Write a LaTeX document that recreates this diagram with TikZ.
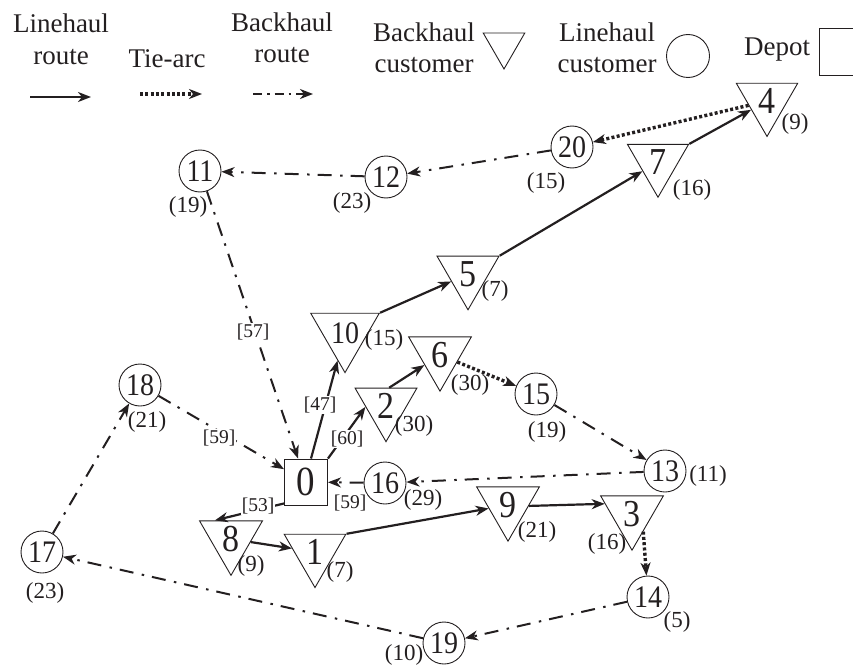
\documentclass[tikz,border=0pt]{standalone}
\usepackage{fontspec}
\usepackage{graphicx}
\setmainfont{Liberation Serif}
\usetikzlibrary{shapes.geometric,arrows.meta,calc}
\definecolor{ink}{RGB}{35,31,32}
\newcommand{\tallnum}[1]{\scalebox{1}[1.12]{#1}}
\begin{document}
\begin{tikzpicture}[x=1pt,y=-1pt,
  every node/.style={text=ink},
  circ/.style={circle,draw=ink,line width=0.9pt,minimum size=42pt,inner sep=0pt,font=\fontsize{28}{28}\selectfont},
  tri/.style={regular polygon,regular polygon sides=3,shape border rotate=180,draw=ink,line width=0.9pt,minimum size=64.7pt,inner sep=0pt,font=\fontsize{34}{34}\selectfont},
  depot/.style={rectangle,draw=ink,line width=0.9pt,minimum width=43pt,minimum height=46pt,inner sep=0pt,font=\fontsize{37}{37}\selectfont},
  dem/.style={inner sep=0pt,font=\fontsize{23}{23}\selectfont},
  elab/.style={inner sep=1pt,fill=white,font=\fontsize{19.5}{19.5}\selectfont},
  leg/.style={inner sep=0pt,anchor=base,font=\fontsize{27}{27}\selectfont},
  tip/.style={-{Stealth[length=13pt,width=10pt,inset=4pt]}},
  lh/.style={tip,draw=ink,line width=2.2pt},
  tie/.style={tip,draw=ink,line width=3.4pt,dash pattern=on 3pt off 2.3pt},
  bh/.style={tip,draw=ink,line width=2pt,dash pattern=on 14pt off 8pt on 2.5pt off 8.5pt}
]
\useasboundingbox (0,0) rectangle (853,666);

% ---------- legend ----------
\node[leg] (l1a) at (61,33) {Linehaul};
\node[leg] (l1b) at (61,65) {route};
\node[leg] (l2a) at (167,68) {Tie-arc};
\node[leg] (l3a) at (282,32) {Backhaul};
\node[leg] (l3b) at (282,63) {route};
\node[leg] (l4a) at (424,42) {Backhaul};
\node[leg] (l4b) at (424,73) {customer};
\node[leg] (l5a) at (607,42) {Linehaul};
\node[leg] (l5b) at (607,73) {customer};
\node[leg] (l6a) at (777,56) {Depot};
\node[tri,minimum size=48pt] (ltri) at (504,45) {};
\node[circ,minimum size=43pt] (lcirc) at (688,56) {};
\node[depot,minimum width=42pt,minimum height=47pt] (ldep) at (840,52) {};
\coordinate (la1) at (30,97);  \coordinate (lb1) at (91,97);
\coordinate (la2) at (140,94); \coordinate (lb2) at (202,94);
\coordinate (la3) at (253,94); \coordinate (lb3) at (313,94);
\draw[lh] (la1) -- (lb1);
\draw[tie] (la2) -- (lb2);
\draw[bh,dash pattern=on 9pt off 5pt on 2.5pt off 5pt] (la3) -- (lb3);

% ---------- nodes ----------
\node[depot] (d0) at (306,482) {\tallnum{0}};
\node[tri] (t4) at (767,101) {\tallnum{4}};
\node[tri] (t7) at (658,162) {\tallnum{7}};
\node[tri] (t5) at (468,274) {\tallnum{5}};
\node[tri,font=\fontsize{28}{28}\selectfont] (t10) at (345,333) {\tallnum{10}};
\node[tri] (t6) at (440,355) {\tallnum{6}};
\node[tri] (t2) at (386,406) {\tallnum{2}};
\node[tri] (t9) at (508,505) {\tallnum{9}};
\node[tri] (t3) at (632,514) {\tallnum{3}};
\node[tri] (t8) at (231,539) {\tallnum{8}};
\node[tri] (t1) at (315,552) {\tallnum{1}};
\node[circ] (c20) at (572,147) {\tallnum{20}};
\node[circ] (c12) at (386,177) {\tallnum{12}};
\node[circ] (c11) at (200,171) {\tallnum{11}};
\node[circ] (c15) at (536,394) {\tallnum{15}};
\node[circ] (c13) at (665,471) {\tallnum{13}};
\node[circ] (c16) at (385,483) {\tallnum{16}};
\node[circ] (c14) at (648,597) {\tallnum{14}};
\node[circ] (c19) at (444,643) {\tallnum{19}};
\node[circ] (c18) at (140,385) {\tallnum{18}};
\node[circ] (c17) at (42,552) {\tallnum{17}};

% ---------- demands ----------
\node[dem] (q4) at (795,124) {(9)};
\node[dem] (q20) at (546,183) {(15)};
\node[dem] (q7) at (692,190) {(16)};
\node[dem] (q12) at (352,203) {(23)};
\node[dem] (q11) at (188,207) {(19)};
\node[dem] (q5) at (495,291) {(7)};
\node[dem] (q10) at (384,340) {(15)};
\node[dem] (q6) at (470,385) {(30)};
\node[dem] (q2) at (414,426) {(30)};
\node[dem] (q15) at (547,432) {(19)};
\node[dem] (q13) at (708,476) {(11)};
\node[dem] (q16) at (423,500) {(29)};
\node[dem] (q9) at (537,532) {(21)};
\node[dem] (q3) at (607,544) {(16)};
\node[dem] (q14) at (677,622) {(5)};
\node[dem] (q19) at (404,655) {(10)};
\node[dem] (q8) at (251,566) {(9)};
\node[dem] (q1) at (340,572) {(7)};
\node[dem] (q18) at (147,422) {(21)};
\node[dem] (q17) at (45,593) {(23)};

% ---------- linehaul routes ----------
\draw[lh] ([xshift=5pt]d0.north) -- (t10);
\draw[lh] (t10.corner 2) -- (t5);
\draw[lh] (t5.corner 2) -- (t7);
\draw[lh] (t7.corner 2) -- (t4);
\draw[lh] (d0.north east) -- ($(t2.corner 3)!0.35!(t2.corner 1)$);
\draw[lh] ($(t2.corner 3)!0.55!(t2.corner 2)$) -- (t6);
\draw[lh] ([yshift=2pt]d0.south west) -- ($(t8.corner 3)!0.25!(t8.corner 2)$);
\draw[lh] (t8) -- (t1);
\draw[lh] (t1.corner 2) -- (t9);
\draw[lh] ($(t9.corner 2)!0.35!(t9.corner 1)$) -- ($(t3.corner 3)!0.15!(t3.corner 1)$);

% ---------- tie arcs ----------
\draw[tie] (t4) -- (c20);
\draw[tie] (t6) -- (c15);
\draw[tie] ($(t3.corner 2)!0.65!(t3.corner 1)$) -- (c14);

% ---------- backhaul routes ----------
\draw[bh] (c20) -- (c12);
\draw[bh] (c12) -- (c11);
\draw[bh] (c11) -- (d0);
\draw[bh] (c18) -- (d0);
\draw[bh] (c16) -- (d0);
\draw[bh] (c13) -- (c16);
\draw[bh] (c15) -- (c13);
\draw[bh] (c14) -- (c19);
\draw[bh] (c19) -- (c17);
\draw[bh] (c17) -- (c18);

% ---------- edge labels ----------
\node[elab] (e57) at (253,332) {[57]};
\node[elab] (e47) at (320,405) {[47]};
\node[elab] (e60) at (347,439) {[60]};
\node[elab] (e59a) at (219,438) {[59]};
\node[elab] (e53) at (258,506) {[53]};
\node[elab] (e59b) at (350,503) {[59]};
\end{tikzpicture}
\end{document}
